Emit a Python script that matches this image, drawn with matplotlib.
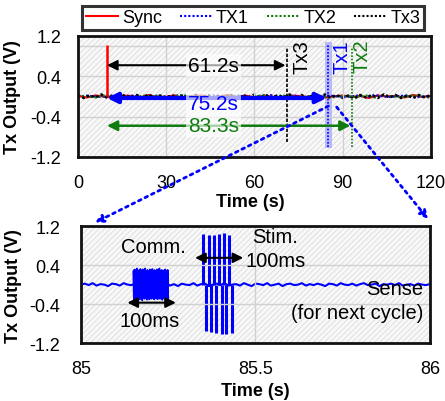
import matplotlib
matplotlib.use('Agg')
import matplotlib.pyplot as plt
from matplotlib.patches import Rectangle, ConnectionPatch
from matplotlib.lines import Line2D
import numpy as np

plt.rcParams['font.family'] = ['Liberation Sans', 'DejaVu Sans']
plt.rcParams['hatch.linewidth'] = 0.5

BLUE = '#0000ff'
GREEN = '#107c10'

# ---- top panel: full 120 s record ----
top_xticks = [0, 30, 60, 90, 120]
top_yticks = [-1.2, -0.4, 0.4, 1.2]

sync_noise = [0.01, -0.02, 0.02, 0.00, -0.03, 0.02, 0.01, -0.02, 0.03, -0.01,
              0.00, 0.02, -0.03, 0.01, 0.02, -0.02, 0.00, 0.03, -0.01, 0.02,
              -0.02, 0.01, 0.00, -0.03, 0.02, 0.01, -0.01, 0.03, -0.02, 0.00,
              0.02, -0.01, 0.01, -0.03, 0.02, 0.00, 0.01, -0.02, 0.03, -0.01, 0.01]
tx1_noise = [-0.02, 0.02, 0.00, -0.01, 0.03, -0.02, 0.01, 0.02, -0.03, 0.00,
             0.02, -0.01, 0.01, 0.03, -0.02, 0.00, -0.01, 0.02, 0.01, -0.03,
             0.02, 0.00, -0.02, 0.01, 0.03, -0.01, 0.00, 0.02, -0.02, 0.01,
             -0.03, 0.02, 0.01, -0.01, 0.00, 0.02, -0.02, 0.03, 0.00, -0.01,
             0.01, 0.02, -0.02, 0.00, 0.01]
tx2_noise = [0.02, 0.00, -0.02, 0.03, -0.01, 0.01, -0.03, 0.02, 0.00, 0.01,
             -0.02, 0.03, 0.01, -0.01, 0.00, -0.03, 0.02, 0.01, -0.02, 0.00,
             0.03, -0.01, 0.02, 0.00, -0.02, 0.01, 0.02, -0.03, 0.00, 0.01,
             -0.01, 0.02, -0.02, 0.03, 0.00, -0.01, 0.02, 0.01, -0.03]
tx3_noise = [0.03, -0.03, 0.02, -0.02, 0.04, -0.03, 0.02, -0.04, 0.03, -0.02,
             0.03, -0.03, 0.04, -0.02, 0.02, -0.03, 0.03, -0.04, 0.02, -0.02,
             0.03, -0.03, 0.04, -0.03, 0.02, -0.02, 0.03, -0.04, 0.03, -0.02,
             0.04, -0.03, 0.02, -0.03, 0.03, -0.02, 0.04, -0.04, 0.03, -0.03,
             0.02, -0.03, 0.04, -0.02, 0.03, -0.03, 0.02, -0.04, 0.03, -0.02,
             0.03, -0.03, 0.04, -0.02, 0.03, -0.03, 0.02, -0.03, 0.03, -0.02, 0.03]

# pulse times (s) and peak levels (V) for each channel
sync_t, sync_hi, sync_lo = 9.9, 1.03, 0.0
tx3_t, tx3_hi, tx3_lo = 71.2, 0.98, -0.90
tx1_t, tx1_hi, tx1_lo = 85.2, 1.02, -1.00
tx2_t, tx2_hi, tx2_lo = 93.3, 0.98, -1.00

delays = [61.2, 75.2, 83.3]

# ---- bottom panel: zoom on 85-86 s of TX1 ----
bot_xticks = [85, 85.5, 86]
bot_yticks = [-1.2, -0.4, 0.4, 1.2]

base_noise = [0.00, 0.02, -0.01, 0.03, -0.02, 0.01, 0.00, -0.03, 0.02, 0.01,
              -0.02, 0.03, 0.00, -0.01, 0.02, -0.03, 0.01, 0.04, -0.02, 0.00,
              0.02, -0.01, 0.03, -0.02, 0.01, -0.03, 0.02, 0.00, -0.01, 0.03,
              -0.02, 0.01, 0.02, -0.03, 0.00, 0.02, -0.01, 0.03, -0.02, 0.00,
              0.01, -0.02, 0.03, 0.00, -0.03, 0.02, 0.01, -0.01, 0.03, -0.02,
              0.00, 0.02, -0.03, 0.01, 0.02, -0.01, 0.00, 0.03, -0.02, 0.01,
              -0.01, 0.02, 0.00, -0.03, 0.02, 0.01, -0.02, 0.03, 0.00, -0.01,
              0.02, -0.02, 0.01, 0.03, -0.01, 0.00, 0.02, -0.03, 0.01, 0.00,
              0.02, -0.01, 0.03, -0.02, 0.00, 0.01, -0.02, 0.02, 0.00, -0.01, 0.01]

comm_start, comm_end = 85.15, 85.25
comm_hi = [0.27, 0.31, 0.29, 0.33, 0.28, 0.30, 0.32, 0.27, 0.31, 0.29,
           0.33, 0.28, 0.30, 0.26, 0.31, 0.29, 0.32, 0.28, 0.30, 0.27,
           0.31, 0.29, 0.33, 0.28, 0.30, 0.27, 0.29, 0.31, 0.28, 0.30]
comm_lo = [-0.30, -0.27, -0.31, -0.28, -0.26, -0.30, -0.28, -0.32, -0.27, -0.29,
           -0.26, -0.31, -0.28, -0.30, -0.27, -0.29, -0.25, -0.30, -0.28, -0.27,
           -0.30, -0.26, -0.29, -0.27, -0.31, -0.28, -0.26, -0.29, -0.27, -0.28]

stim_pos_t = [85.350, 85.366, 85.381, 85.395, 85.411, 85.425]
stim_pos_v = [1.04, 1.01, 1.02, 1.03, 1.05, 1.01]
stim_neg_t = [85.357, 85.372, 85.387, 85.403, 85.417, 85.433]
stim_neg_v = [-0.95, -0.97, -0.99, -1.01, -1.02, -0.99]


def hatch_bg(ax):
    ax.set_facecolor('white')
    ax.add_patch(Rectangle((0, 0), 1, 1, transform=ax.transAxes, facecolor='#f8f8f8',
                           edgecolor='#d6d6d6', hatch='//////', lw=0, zorder=0))


def style_axes(ax):
    for s in ax.spines.values():
        s.set_linewidth(2)
        s.set_color('#111111')
        s.set_zorder(10)
    ax.tick_params(length=0, labelsize=13)
    ax.grid(True, color='#d0d0d0', lw=1, zorder=0.5)
    ax.set_axisbelow(False)


fig = plt.figure(figsize=(4.45, 4.02), dpi=100)
ax1 = fig.add_axes([0.175, 0.607, 0.793, 0.301])
ax2 = fig.add_axes([0.182, 0.144, 0.784, 0.291])

# top panel
hatch_bg(ax1)
style_axes(ax1)
ax1.axhline(1.0, color='#d0d0d0', lw=1, zorder=0.5)

ax1.plot(np.linspace(0, 120, len(sync_noise)), sync_noise, color='red', lw=1.5, zorder=2)
ax1.plot(np.linspace(0, 120, len(tx1_noise)), tx1_noise, color=BLUE, lw=1.5, ls=(0, (1, 1)), zorder=2)
ax1.plot(np.linspace(0, 120, len(tx2_noise)), tx2_noise, color=GREEN, lw=1.5, ls=(0, (1, 1)), zorder=2)
ax1.plot(np.linspace(0, 120, len(tx3_noise)), tx3_noise, color='black', lw=1.8, ls=(0, (1, 1)), zorder=2.2)

ax1.add_patch(Rectangle((tx1_t - 1.3, tx1_lo - 0.02), 2.6, 2.1, facecolor='#8c8cff',
                        alpha=0.55, edgecolor='none', zorder=1.5))
ax1.vlines(sync_t, sync_lo, sync_hi, color='red', lw=1.8, zorder=3)
ax1.vlines(tx3_t, tx3_lo, tx3_hi, color='black', lw=1.2, ls=(0, (2, 1)), zorder=3)
ax1.vlines(tx1_t, tx1_lo, tx1_hi, color=BLUE, lw=1.2, ls=(0, (1, 1)), zorder=3)
ax1.vlines(tx2_t, tx2_lo, tx2_hi, color=GREEN, lw=1.2, ls=(0, (1, 1)), zorder=3)

arrow_specs = [(tx3_t, 0.62, 'black', 1.5), (tx1_t, -0.03, BLUE, 3.0), (tx2_t, -0.58, GREEN, 1.8)]
for d, (t_end, y, c, lw) in zip(delays, arrow_specs):
    ax1.annotate('', xy=(t_end - 0.6, y), xytext=(sync_t, y),
                 arrowprops=dict(arrowstyle='<|-|>', color=c, lw=lw, mutation_scale=15,
                                 shrinkA=0, shrinkB=0), zorder=4)
text_y = [0.62, -0.13, -0.58]
for d, (t_end, y, c, lw), ty in zip(delays, arrow_specs, text_y):
    ax1.text(46, ty, f'{d}s', color=c, fontsize=15, ha='center', va='center', zorder=5,
             bbox=dict(facecolor='white', alpha=0.65, edgecolor='none', pad=1.5))

ax1.text(76.3, 0.80, 'Tx3', rotation=90, color='black', fontsize=14.5, ha='center', va='center', zorder=5)
ax1.text(89.8, 0.80, 'Tx1', rotation=90, color=BLUE, fontsize=14.5, ha='center', va='center', zorder=5)
ax1.text(96.6, 0.82, 'Tx2', rotation=90, color=GREEN, fontsize=14.5, ha='center', va='center', zorder=5)

ax1.set_xlim(0, 120)
ax1.set_ylim(-1.2, 1.2)
ax1.set_xticks(top_xticks)
ax1.set_yticks(top_yticks)
ax1.set_yticklabels([f'{v:.1f}' for v in top_yticks])
ax1.tick_params(axis='x', pad=12)
ax1.tick_params(axis='y', pad=12)
ax1.set_xlabel('Time (s)', fontsize=13, fontweight='bold')
ax1.set_ylabel('Tx Output (V)', fontsize=13, fontweight='bold')
ax1.xaxis.set_label_coords(0.49, -0.30)
ax1.yaxis.set_label_coords(-0.16, 0.5)

# bottom panel
hatch_bg(ax2)
style_axes(ax2)
ax2.plot(np.linspace(85, 86, len(base_noise)), base_noise, color=BLUE, lw=1.5, zorder=2)

comm_t = np.linspace(comm_start, comm_end, 2 * len(comm_hi))
comm_v = np.ravel(np.column_stack([comm_hi, comm_lo]))
ax2.plot(comm_t, comm_v, color=BLUE, lw=1.3, zorder=2)
ax2.vlines(stim_pos_t, 0, stim_pos_v, color=BLUE, lw=2.2, zorder=2)
ax2.vlines(stim_neg_t, stim_neg_v, 0, color=BLUE, lw=2.2, zorder=2)

arrow_kw = dict(arrowstyle='<|-|>', color='black', lw=1.5, mutation_scale=15, shrinkA=0, shrinkB=0)
ax2.annotate('', xy=(85.272, -0.37), xytext=(85.133, -0.37), arrowprops=arrow_kw, zorder=4)
ax2.annotate('', xy=(85.465, 0.55), xytext=(85.327, 0.55), arrowprops=arrow_kw, zorder=4)
ax2.text(85.207, 0.79, 'Comm.', fontsize=14.5, ha='center', va='center', zorder=5)
ax2.text(85.198, -0.73, '100ms', fontsize=14.5, ha='center', va='center', zorder=5)
ax2.text(85.557, 0.99, 'Stim.', fontsize=14.5, ha='center', va='center', zorder=5)
ax2.text(85.557, 0.50, '100ms', fontsize=14.5, ha='center', va='center', zorder=5)
ax2.text(85.982, -0.08, 'Sense', fontsize=14.5, ha='right', va='center', zorder=5)
ax2.text(85.982, -0.58, '(for next cycle)', fontsize=14.5, ha='right', va='center', zorder=5)

ax2.set_xlim(85, 86)
ax2.set_ylim(-1.2, 1.2)
ax2.set_xticks(bot_xticks)
ax2.set_xticklabels(['85', '85.5', '86'])
ax2.set_yticks(bot_yticks)
ax2.set_yticklabels([f'{v:.1f}' for v in bot_yticks])
ax2.tick_params(axis='x', pad=12)
ax2.tick_params(axis='y', pad=15)
ax2.set_xlabel('Time (s)', fontsize=13, fontweight='bold')
ax2.set_ylabel('Tx Output (V)', fontsize=13, fontweight='bold')
ax2.xaxis.set_label_coords(0.5, -0.33)
ax2.yaxis.set_label_coords(-0.169, 0.5)

# zoom connectors
for xyA, xyB in [((tx1_t, -0.19), (0.04, 1.03)), ((88.0, -0.21), (0.995, 1.06))]:
    con = ConnectionPatch(xyA=xyA, coordsA=ax1.transData, xyB=xyB, coordsB=ax2.transAxes,
                          arrowstyle='-|>', linestyle=(0, (1, 1.6)), lw=2, color=BLUE,
                          mutation_scale=12, zorder=20)
    fig.add_artist(con)

# legend
handles = [Line2D([], [], color='red', lw=1.5),
           Line2D([], [], color=BLUE, lw=1.5, ls=(0, (1, 1))),
           Line2D([], [], color=GREEN, lw=1.5, ls=(0, (1, 1))),
           Line2D([], [], color='black', lw=1.5, ls=(0, (1, 1)))]
leg = fig.legend(handles, ['Sync', 'TX1', 'TX2', 'Tx3'], ncol=4, mode='expand',
                 bbox_to_anchor=(0.164, 0.920, 0.809, 0.067), loc='center',
                 fontsize=13, handlelength=1.8, handletextpad=0.2, columnspacing=0.6,
                 borderpad=0.2, fancybox=False, frameon=True)
leg.get_frame().set_edgecolor('black')
leg.get_frame().set_linewidth(2.2)

fig.savefig('out.png', dpi=100)
